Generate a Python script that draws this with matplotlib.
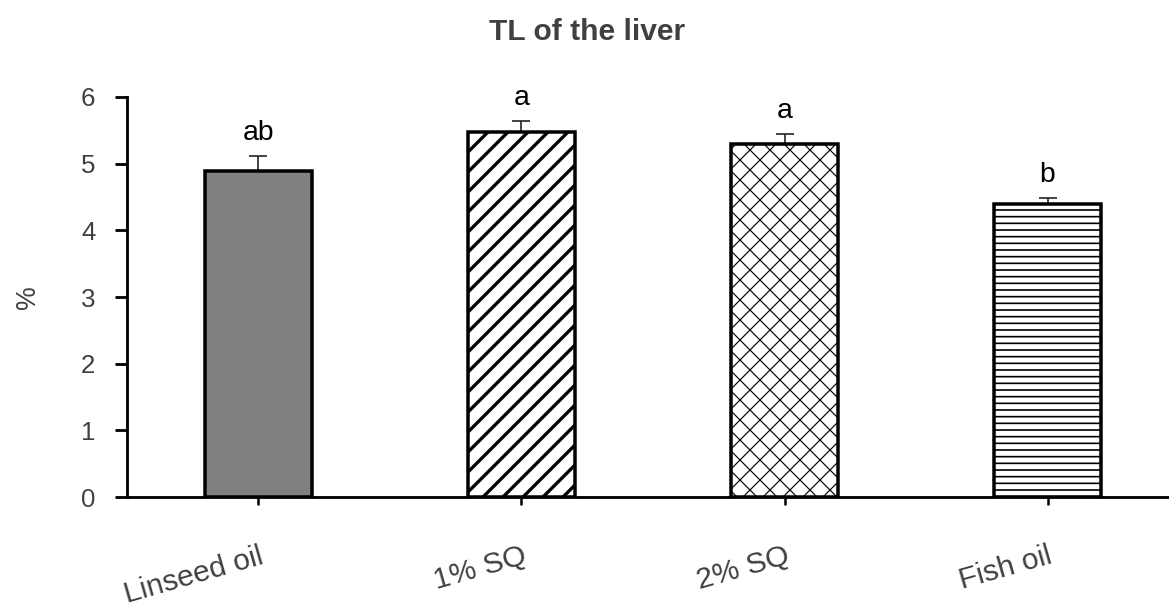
import matplotlib
matplotlib.use("Agg")
import matplotlib.pyplot as plt

plt.rcParams['font.family'] = ['Liberation Sans', 'DejaVu Sans']

groups = ['Linseed oil', '1% SQ', '2% SQ', 'Fish oil']
tl_mean = [4.89, 5.47, 5.30, 4.39]
tl_se = [0.23, 0.17, 0.15, 0.09]
letters = ['ab', 'a', 'a', 'b']

fills = ['#808080', 'white', 'white', 'white']
hatches = [None, '//', 'xx', '---']
hatch_lw = [1.0, 2.0, 0.7, 1.0]

fig = plt.figure(figsize=(1169 / 120, 610 / 120), dpi=120)
ax = fig.add_axes([0.1086, 0.1852, 0.9, 0.6558])

x = list(range(len(groups)))
for i in x:
    plt.rcParams['hatch.linewidth'] = hatch_lw[i]
    b = ax.bar(i, tl_mean[i], width=0.41, color=fills[i], edgecolor='black',
               linewidth=2.1, hatch=hatches[i], zorder=3)
    for p in b:
        if hasattr(p, 'set_hatch_linewidth'):
            p.set_hatch_linewidth(hatch_lw[i])

ax.errorbar(x, tl_mean, yerr=[[0] * len(x), tl_se], fmt='none',
            ecolor='#222222', elinewidth=1.0, capsize=5.5, capthick=1.0, zorder=2)

for i in x:
    ax.annotate(letters[i], (i, tl_mean[i] + tl_se[i]), xytext=(0, 6),
                textcoords='offset points', ha='center', va='bottom',
                fontsize=17, color='black')

ax.set_xlim(-0.5, 3.5)
ax.set_ylim(0, 6)
ax.set_yticks(range(7))
ax.set_xticks(x)
ax.set_xticklabels(groups, rotation=16, ha='right', rotation_mode='anchor')

for s in ['top', 'right']:
    ax.spines[s].set_visible(False)
for s in ['left', 'bottom']:
    ax.spines[s].set_linewidth(1.7)

ax.tick_params(axis='y', direction='out', length=7, width=1.7, pad=12,
               labelsize=15.5, labelcolor='#404040')
ax.tick_params(axis='x', direction='out', length=5, width=1.5, pad=22,
               labelsize=18, labelcolor='#404040')

ax.set_ylabel('%', fontsize=16, color='#404040', labelpad=24)
fig.text(0.502, 0.948, 'TL of the liver', ha='center', va='center',
         fontsize=18, fontweight='bold', color='#404040')

fig.savefig('out.png', dpi=120)
